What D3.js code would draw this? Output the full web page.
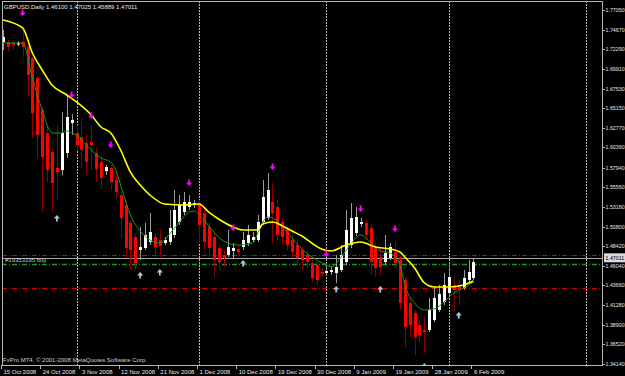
<!DOCTYPE html>
<html>
<head>
<meta charset="utf-8">
<script src="https://cdn.jsdelivr.net/npm/d3@7"></script>
<style>
  html, body { margin: 0; padding: 0; background: #000; }
  svg { display: block; }
  text { font-family: "Liberation Sans", Arial, sans-serif; }
</style>
</head>
<body>
<svg id="chart" width="625" height="376"></svg>
<script>
// GBPUSD daily bars, 15 Oct 2008 .. 6 Feb 2009
const opens = [1.7317,1.7317,1.7305,1.7293,1.7317,1.7256,1.7123,1.6881,1.6493,1.6214,
  1.5984,1.5790,1.5765,1.5972,1.6335,1.6214,1.6165,1.6093,1.6105,1.5972,
  1.5862,1.5753,1.5790,1.5644,1.5462,1.5341,1.5123,1.4953,1.4796,1.4820,
  1.4893,1.4953,1.4917,1.4881,1.4893,1.4978,1.5135,1.5256,1.5317,1.5341,
  1.5365,1.5244,1.5075,1.4953,1.4820,1.4735,1.4735,1.4784,1.4808,1.4832,
  1.4881,1.4917,1.4917,1.5135,1.5184,1.5378,1.5317,1.5135,1.5062,1.4917,
  1.4856,1.4796,1.4735,1.4638,1.4614,1.4529,1.4517,1.4529,1.4517,1.4553,
  1.4650,1.4856,1.5002,1.5111,1.5123,1.5062,1.4832,1.4711,1.4650,1.4699,
  1.4772,1.4711,1.4432,1.4153,1.4032,1.3887,1.3826,1.3826,1.3947,1.4069,
  1.4166,1.4275,1.4372,1.4372,1.4335,1.4432,1.4456];
const highs = [1.7463,1.7341,1.7329,1.7329,1.7487,1.7281,1.7135,1.6917,1.6517,1.6311,
  1.6032,1.6311,1.6468,1.6675,1.6444,1.6311,1.6396,1.6190,1.6311,1.6032,
  1.5923,1.5826,1.5826,1.5741,1.5499,1.5402,1.5159,1.5002,1.5075,1.5123,
  1.5244,1.5002,1.5038,1.4953,1.5281,1.5523,1.5462,1.5499,1.5462,1.5402,
  1.5402,1.5281,1.5135,1.5002,1.4856,1.4796,1.5038,1.4881,1.4856,1.5014,
  1.5099,1.5014,1.5220,1.5644,1.5729,1.5608,1.5402,1.5184,1.5099,1.4978,
  1.4917,1.4832,1.4796,1.4675,1.4650,1.4578,1.4602,1.4590,1.4735,1.4856,
  1.5281,1.5365,1.5317,1.5184,1.5159,1.5099,1.4881,1.4820,1.4978,1.4881,
  1.4893,1.4735,1.4469,1.4214,1.4069,1.3947,1.3984,1.4214,1.4347,1.4372,
  1.4517,1.4553,1.4469,1.4432,1.4553,1.4675,1.4703];
const lows = [1.7220,1.7196,1.7220,1.7269,1.7135,1.6650,1.6153,1.5911,1.5256,1.5620,
  1.5256,1.5402,1.5705,1.5911,1.6190,1.6008,1.5790,1.5705,1.5765,1.5620,
  1.5547,1.5705,1.5523,1.5426,1.4941,1.4699,1.4553,1.4553,1.4675,1.4796,
  1.4856,1.4711,1.4711,1.4856,1.4856,1.4941,1.5099,1.5220,1.5281,1.5305,
  1.4881,1.4796,1.4711,1.4469,1.4553,1.4590,1.4711,1.4699,1.4735,1.4796,
  1.4844,1.4893,1.4893,1.5099,1.5159,1.4881,1.4917,1.4856,1.4796,1.4699,
  1.4614,1.4553,1.4578,1.4408,1.4372,1.4469,1.4481,1.4493,1.4396,1.4529,
  1.4614,1.4820,1.4965,1.5075,1.4917,1.4493,1.4469,1.4493,1.4614,1.4675,
  1.4590,1.4069,1.3620,1.3741,1.3523,1.3681,1.3547,1.3802,1.3923,1.4044,
  1.4129,1.4238,1.4044,1.4129,1.4311,1.4396,1.4432];
const closes = [1.7378,1.7256,1.7281,1.7305,1.7256,1.6917,1.6456,1.6190,1.5923,1.5765,
  1.5608,1.5741,1.6214,1.6408,1.6372,1.6069,1.6008,1.5862,1.6069,1.5778,
  1.5669,1.5802,1.5620,1.5499,1.5184,1.4820,1.4796,1.4638,1.4832,1.4978,
  1.5014,1.4832,1.4844,1.4917,1.5062,1.5281,1.5341,1.5378,1.5378,1.5365,
  1.5099,1.4893,1.4820,1.4675,1.4650,1.4699,1.4832,1.4820,1.4772,1.4917,
  1.4978,1.4953,1.5135,1.5438,1.5523,1.5244,1.4978,1.4953,1.4856,1.4772,
  1.4699,1.4675,1.4650,1.4456,1.4432,1.4505,1.4541,1.4553,1.4590,1.4735,
  1.5038,1.5184,1.5196,1.5135,1.4978,1.4650,1.4578,1.4590,1.4759,1.4832,
  1.4638,1.4153,1.3862,1.3887,1.3741,1.3766,1.3802,1.4069,1.4214,1.4263,
  1.4372,1.4469,1.4311,1.4311,1.4456,1.4529,1.4650];

// moving averages (yellow slow, green fast), read at some bars
const yellowBars = [0,4,6,8,10,13,15,18,20,22,24,26,28,30,33,37,40,42,44,47,
  49,52,53,55,57,59,61,63,65,67,70,73,76,79,81,82,84,86,88,91,94,96];
const yellowVals = [1.7584,1.7487,1.7184,1.6978,1.6796,1.6675,1.6590,1.6432,1.6287,1.6214,
  1.6008,1.5741,1.5584,1.5462,1.5353,1.5341,1.5353,1.5256,1.5172,1.5075,
  1.5038,1.5038,1.5111,1.5135,1.5087,1.5026,1.4965,1.4881,1.4808,1.4784,
  1.4856,1.4893,1.4832,1.4808,1.4772,1.4711,1.4578,1.4396,1.4347,1.4347,1.4372,1.4420];
const greenBars = [0,4,6,8,10,12,13,14,15,17,20,22,23,24,26,28,30,32,34,36,
  38,39,41,43,45,48,51,52,54,55,57,59,61,64,66,67,69,71,73,75,
  77,79,81,82,84,86,88,90,92,94,96];
const greenVals = [1.7305,1.7305,1.6881,1.6493,1.6214,1.6214,1.6238,1.6214,1.6190,1.6069,
  1.5911,1.5862,1.5765,1.5584,1.5220,1.5026,1.4917,1.4881,1.4990,1.5135,
  1.5256,1.5268,1.5159,1.5014,1.4905,1.4856,1.4881,1.5002,1.5196,1.5184,
  1.5075,1.4941,1.4808,1.4675,1.4614,1.4590,1.4711,1.4869,1.4978,1.4893,
  1.4784,1.4759,1.4614,1.4372,1.4153,1.4069,1.4081,1.4166,1.4275,1.4335,1.4408];

// signal arrows
const downArrowBars = [4,14,18,22,38,47,55,66,73,80];
const downArrowPrices = [1.7669,1.6675,1.6420,1.6069,1.5608,1.5063,1.5802,1.4747,1.5293,1.5051];
const upArrowBars = [11,28,32,49,68,77,86,93];
const upArrowPrices = [1.5184,1.4493,1.4529,1.4638,1.4323,1.4323,1.3390,1.4008];

// axes
const priceTicks = ['1.77050','1.74670','1.72290','1.69910','1.67530','1.65150','1.62770',
  '1.60390','1.57940','1.55560','1.53180','1.50800','1.48420','1.46040','1.43660',
  '1.41280','1.38900','1.36520','1.34140'];
const dateLabels = ['15 Oct 2008','24 Oct 2008','3 Nov 2008','12 Nov 2008','21 Nov 2008',
  '1 Dec 2008','10 Dec 2008','19 Dec 2008','30 Dec 2008','9 Jan 2009','19 Jan 2009',
  '28 Jan 2009','6 Feb 2009'];
const dateLabelBars = [0,8,16,24,32,40,48,56,64,72,80,88,96];
const monthStartBars = [15,40,66,91,119];

// order / price lines
const bidPrice = 1.47011;
const orderOpen = 1.4630;
const orderStop = 1.4335;
const orderTake = 1.4735;
const orderLabel = '#19353195 buy';
const header = 'GBPUSD,Daily  1.46100 1.47025 1.45889 1.47011';
const copyright = 'FxPro MT4, \u00a9 2001-2008 MetaQuotes Software Corp.';

const W = 625, H = 376;
const frameL = 2, frameR = 602, frameT = 1, frameB = 365;
const fontSize = 6;
const axisFont = 5.3;

const svg = d3.select('#chart');
svg.append('rect').attr('width', W).attr('height', H).attr('fill', '#000');

const x = d3.scaleLinear().domain([0, 96]).range([3, 473.4]);
const y = d3.scaleLinear().domain([1.3414, 1.7705]).range([364, 10]);

svg.append('clipPath').attr('id', 'plotclip')
  .append('rect').attr('x', frameL).attr('y', frameT)
  .attr('width', frameR - frameL).attr('height', frameB - frameT);

const plot = svg.append('g').attr('clip-path', 'url(#plotclip)');

// vertical grid (month starts)
plot.append('g').selectAll('line')
  .data(monthStartBars)
  .join('line')
  .attr('x1', d => Math.round(x(d)) + 0.5)
  .attr('x2', d => Math.round(x(d)) + 0.5)
  .attr('y1', frameT).attr('y2', frameB)
  .attr('stroke', '#b8b8b8')
  .attr('stroke-dasharray', '2,1');

// order lines
const levels = [
  {p: orderTake, color: '#d40000', dash: '5,2,1,2', w: 1},
  {p: orderOpen, color: '#1c9a1c', dash: '5,2,1,2', w: 1.5},
  {p: orderStop, color: '#d40000', dash: '5,2,1,2', w: 1}
];
plot.append('g').selectAll('line')
  .data(levels)
  .join('line')
  .attr('x1', frameL).attr('x2', frameR)
  .attr('y1', d => Math.round(y(d.p)) + 0.5)
  .attr('y2', d => Math.round(y(d.p)) + 0.5)
  .attr('stroke', d => d.color)
  .attr('stroke-width', d => d.w)
  .attr('stroke-dasharray', d => d.dash);

plot.append('line')
  .attr('x1', frameL).attr('x2', frameR)
  .attr('y1', Math.round(y(bidPrice)) + 0.5)
  .attr('y2', Math.round(y(bidPrice)) + 0.5)
  .attr('stroke', '#a8a8a8');

plot.append('text')
  .attr('x', 5).attr('y', y(bidPrice) + 4)
  .attr('fill', '#c8c8c8')
  .attr('font-size', fontSize)
  .text(orderLabel);

// candles
const bars = opens.map((o, i) => ({i, o, h: highs[i], l: lows[i], c: closes[i]}));

plot.append('g').selectAll('line')
  .data(bars)
  .join('line')
  .attr('x1', d => Math.round(x(d.i)) + 0.5)
  .attr('x2', d => Math.round(x(d.i)) + 0.5)
  .attr('y1', d => y(d.h))
  .attr('y2', d => y(d.l))
  .attr('stroke', d => d.c >= d.o ? '#9c9c9c' : '#8b0000');

plot.append('g').selectAll('rect')
  .data(bars)
  .join('rect')
  .attr('x', d => Math.round(x(d.i)) - 1)
  .attr('width', 3)
  .attr('y', d => y(Math.max(d.o, d.c)))
  .attr('height', d => Math.max(1.5, Math.abs(y(d.o) - y(d.c))))
  .attr('fill', d => d.c >= d.o ? '#ffffff' : '#ff0000');

// moving averages
const line = d3.line()
  .x(d => x(d[0]))
  .y(d => y(d[1]))
  .curve(d3.curveMonotoneX);

plot.append('path')
  .datum(greenBars.map((b, k) => [b, greenVals[k]]))
  .attr('d', line)
  .attr('fill', 'none')
  .attr('stroke', '#12a012')
  .attr('stroke-width', 1);

plot.append('path')
  .datum(yellowBars.map((b, k) => [b, yellowVals[k]]))
  .attr('d', line)
  .attr('fill', 'none')
  .attr('stroke', '#ffff00')
  .attr('stroke-width', 1.6);

// arrows
const downPath = 'M-0.9,-3.5 h1.8 v3 h2.2 l-3.1,3.5 l-3.1,-3.5 h2.2 z';
const upPath = 'M-0.9,3.5 h1.8 v-3 h2.2 l-3.1,-3.5 l-3.1,3.5 h2.2 z';

plot.append('g').selectAll('path')
  .data(downArrowBars.map((b, k) => [b, downArrowPrices[k]]))
  .join('path')
  .attr('transform', d => `translate(${x(d[0])},${y(d[1])})`)
  .attr('d', downPath)
  .attr('fill', '#ff00ff');

plot.append('g').selectAll('path')
  .data(upArrowBars.map((b, k) => [b, upArrowPrices[k]]))
  .join('path')
  .attr('transform', d => `translate(${x(d[0])},${y(d[1])})`)
  .attr('d', upPath)
  .attr('fill', '#b0c4de');

// frame
svg.append('rect')
  .attr('x', frameL + 0.5).attr('y', frameT + 0.5)
  .attr('width', frameR - frameL).attr('height', frameB - frameT)
  .attr('fill', 'none')
  .attr('stroke', '#b4b4b4');

// price axis
const pAxis = svg.append('g');
pAxis.selectAll('line')
  .data(priceTicks)
  .join('line')
  .attr('x1', frameR).attr('x2', frameR + 3)
  .attr('y1', d => Math.round(y(+d)) + 0.5)
  .attr('y2', d => Math.round(y(+d)) + 0.5)
  .attr('stroke', '#b4b4b4');
pAxis.selectAll('text')
  .data(priceTicks)
  .join('text')
  .attr('x', frameR + 3.5)
  .attr('y', d => y(+d) + 2)
  .attr('fill', '#e8e8e8')
  .attr('font-size', axisFont)
  .text(d => d);

svg.append('rect')
  .attr('x', frameR + 2).attr('y', y(bidPrice) - 4.5)
  .attr('width', W - frameR - 2).attr('height', 9)
  .attr('fill', '#d8d8d8');
svg.append('text')
  .attr('x', frameR + 3.5).attr('y', y(bidPrice) + 2)
  .attr('fill', '#000')
  .attr('font-size', axisFont)
  .text(bidPrice.toFixed(5));

// date axis
const dAxis = svg.append('g');
dAxis.selectAll('line')
  .data(dateLabelBars)
  .join('line')
  .attr('x1', d => Math.round(x(d)) - 1.5)
  .attr('x2', d => Math.round(x(d)) - 1.5)
  .attr('y1', frameB).attr('y2', frameB + 4)
  .attr('stroke', '#b4b4b4');
dAxis.selectAll('text')
  .data(dateLabelBars)
  .join('text')
  .attr('x', d => x(d) + 0.5)
  .attr('y', frameB + 8.5)
  .attr('fill', '#e8e8e8')
  .attr('font-size', fontSize)
  .text((d, k) => dateLabels[k]);

// header and copyright
svg.append('text')
  .attr('x', 4).attr('y', 8.5)
  .attr('fill', '#e8e8e8')
  .attr('font-size', fontSize)
  .text(header);
svg.append('text')
  .attr('x', 3).attr('y', 362)
  .attr('fill', '#d0d0d0')
  .attr('font-size', fontSize)
  .text(copyright);
</script>
</body>
</html>
